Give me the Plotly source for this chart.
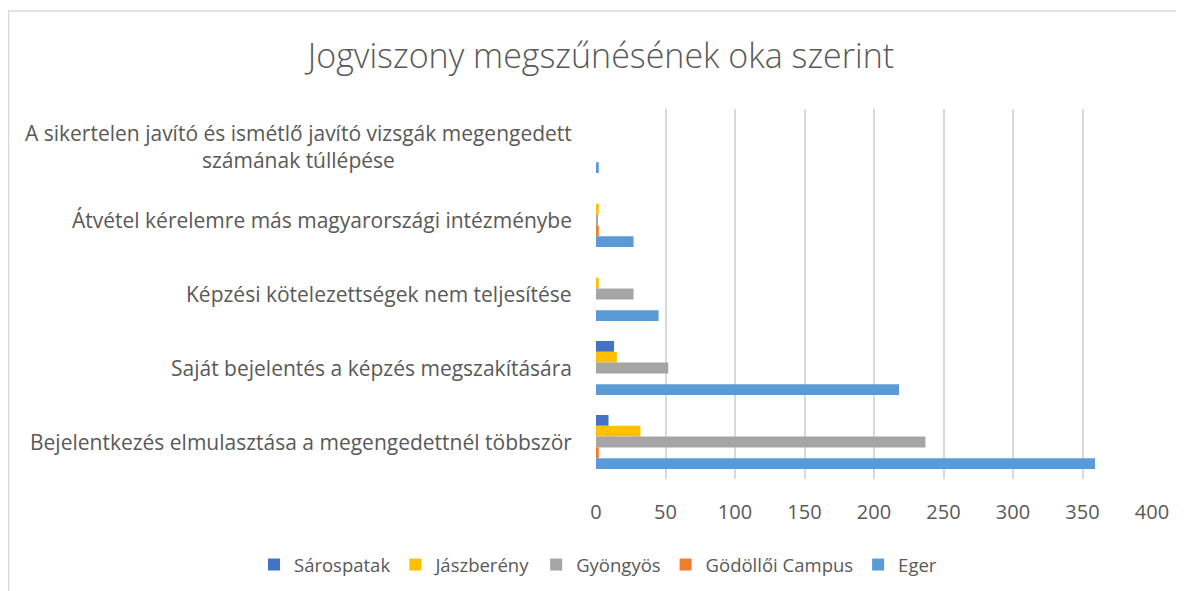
import plotly.graph_objects as go

categories = [
    "A sikertelen javító és ismétlő javító vizsgák megengedett<br>számának túllépése",
    "Átvétel kérelemre más magyarországi intézménybe",
    "Képzési kötelezettségek nem teljesítése",
    "Saját bejelentés a képzés megszakítására",
    "Bejelentkezés elmulasztása a megengedettnél többször",
]
series_names = ["Sárospatak", "Jászberény", "Gyöngyös", "Gödöllői Campus", "Eger"]
sarospatak = [0, 0, 0, 13, 9]
jaszbereny = [0, 2, 2, 15, 32]
gyongyos = [0, 1, 27, 52, 237]
godolloi = [0, 2, 0, 0, 2]
eger = [2, 27, 45, 218, 359]
x_ticks = [0, 50, 100, 150, 200, 250, 300, 350, 400]

series_values = [sarospatak, jaszbereny, gyongyos, godolloi, eger]
colors = ["#4472C4", "#FFC000", "#A5A5A5", "#ED7D31", "#5B9BD5"]

FONT = "Open Sans"
TXT = "#595959"

fig = go.Figure()
for name, vals, col in zip(series_names, series_values, colors):
    fig.add_trace(go.Bar(
        y=categories, x=vals, name=name, orientation="h",
        marker=dict(color=col, line=dict(width=0)),
    ))

OFF = 8  # page body margin
W, H = 1184 - OFF, 591 - OFF
# plot area in page pixels
PL, PR, PT, PB = 596, 1152, 109, 479
L = PL - OFF
R = W - (PR - OFF)
T = PT - OFF
B = H - (PB - OFF)
pw = W - L - R
ph = H - T - B

def px_x(p):
    return (p - OFF - L) / pw

def px_y(p):
    return (H - B - (p - OFF)) / ph

for cat in categories:
    fig.add_annotation(
        text=cat, x=px_x(574), xref="paper", y=cat, yref="y",
        xanchor="right", yanchor="middle", align="center", showarrow=False,
        font=dict(family=FONT, size=21, color=TXT),
    )

fig.add_shape(
    type="rect", xref="paper", yref="paper",
    x0=px_x(8.5), x1=px_x(1200), y0=px_y(620), y1=px_y(11),
    line=dict(color="#d9d9d9", width=1.5), fillcolor="rgba(0,0,0,0)", layer="below",
)

fig.update_layout(
    width=W, height=H,
    margin=dict(l=L, r=R, t=T, b=B, autoexpand=False),
    paper_bgcolor="white", plot_bgcolor="white",
    barmode="group", bargap=0.27, bargroupgap=0,
    title=dict(text="Jogviszony megszűnésének oka szerint", x=(601 - OFF) / W, xanchor="center",
               y=1 - (56 - OFF) / H, yanchor="middle",
               font=dict(family=FONT, size=34, color=TXT, weight=300)),
    showlegend=True,
    legend=dict(orientation="h", x=px_x(254), xanchor="left", y=px_y(565), yanchor="middle",
                font=dict(family=FONT, size=18.5, color=TXT), itemwidth=30,
                traceorder="normal"),
    xaxis=dict(range=[0, 400], tickvals=x_ticks, showgrid=True, gridcolor="#d9d9d9", gridwidth=1.5,
               zeroline=False, showline=False, ticks="",
               tickfont=dict(family=FONT, size=20, color=TXT), ticklabelstandoff=19),
    yaxis=dict(autorange="reversed", showticklabels=False, showgrid=False, zeroline=False,
               showline=False, ticks=""),
)

fig.write_html("out.html")
